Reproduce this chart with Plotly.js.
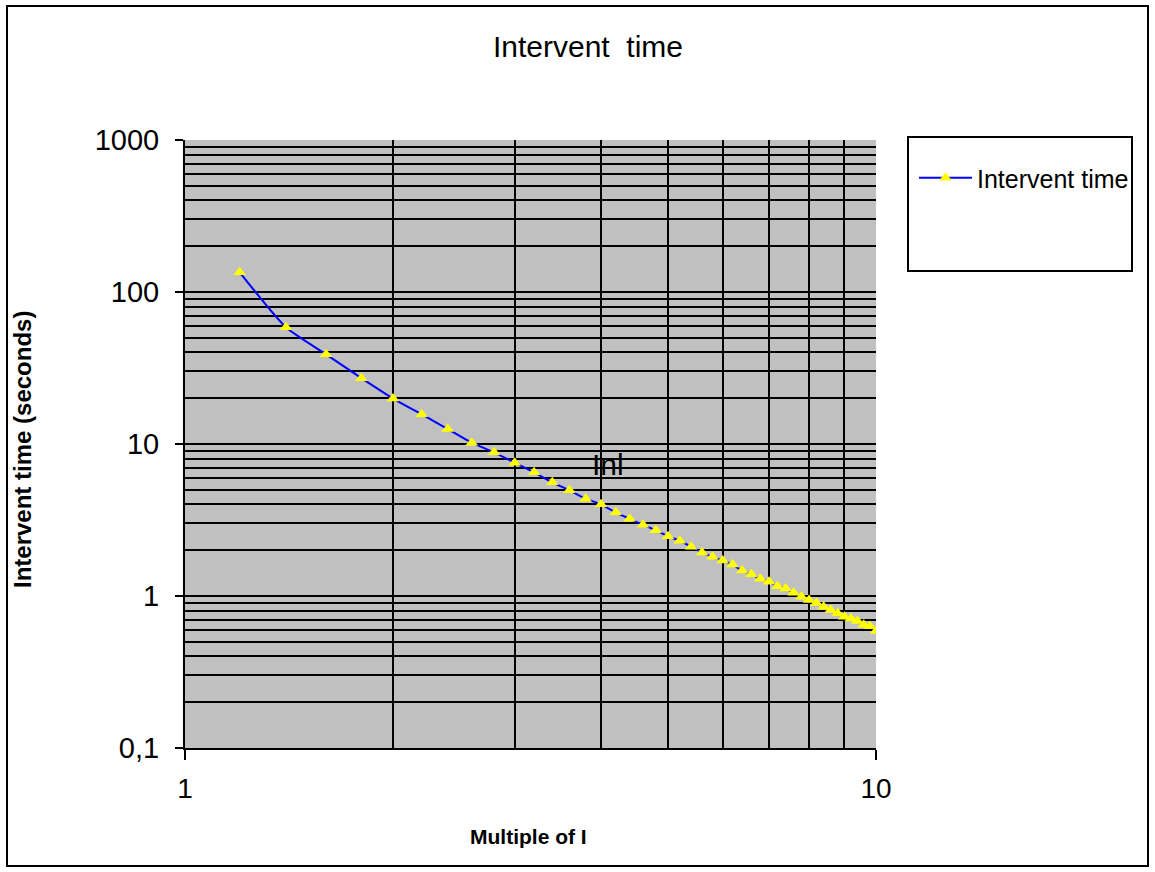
<!DOCTYPE html>
<html>
<head>
<meta charset="utf-8">
<script src="https://cdn.plot.ly/plotly-3.0.1.min.js"></script>
<style>html,body{margin:0;padding:0;background:#fff;}#chart{width:1155px;height:872px;}</style>
</head>
<body>
<div id="chart"></div>
<script>
const seriesName = "Intervent time";
const multipleOfI = [1.2,1.4,1.6,1.8,2.0,2.2,2.4,2.6,2.8,3.0,3.2,3.4,3.6,3.8,4.0,4.2,4.4,4.6,4.8,5.0,
  5.2,5.4,5.6,5.8,6.0,6.2,6.4,6.6,6.8,7.0,7.2,7.4,7.6,7.8,8.0,8.2,8.4,8.6,8.8,9.0,9.2,9.4,9.6,9.8,10.0];
const interventTime = [134.8,58.6,38.9,27.1,19.9,15.7,12.55,10.2,8.82,7.54,6.51,5.60,4.96,4.37,4.01,3.55,3.22,2.94,2.71,2.47,
  2.31,2.11,1.93,1.81,1.71,1.61,1.47,1.39,1.30,1.24,1.16,1.12,1.05,0.99,0.94,0.90,0.85,0.81,0.77,0.73,0.71,0.685,0.647,0.632,0.589];
const yTickVals = [0.1,1,10,100,1000];
const yTickText = ["0,1","1","10","100","1000"];
const xTickVals = [1,10];
const xTickText = ["1","10"];
const annotationText = "Inl";
const annotationPos = [4.1, 7.3];

const FONT = "Liberation Sans, Arial, sans-serif";

const trace = {
  x: multipleOfI, y: interventTime, name: seriesName,
  type: 'scatter', mode: 'lines+markers',
  line: {color: '#0000FF', width: 2, shape: 'spline', smoothing: 0.6},
  marker: {symbol: 'triangle-up', size: 11, color: '#FFFF00', line: {width: 0}}
};

const L = 185, R = 876, T = 140, B = 748, W = 1155, H = 872;
const pw = R - L, ph = B - T;
const px = v => (v - L) / pw;
const py = v => (B - v) / ph;

const layout = {
  width: W, height: H,
  margin: {l: L, r: W - R, t: T, b: H - B, pad: 0},
  paper_bgcolor: '#FFFFFF', plot_bgcolor: '#C0C0C0',
  font: {family: FONT, color: '#000'},
  title: {text: "Intervent\u00a0 time", font: {family: FONT, size: 30, color: '#000'},
          xref: 'container', x: 588 / W, xanchor: 'center', yref: 'container', y: 1 - 46 / H, yanchor: 'middle'},
  showlegend: true,
  legend: {x: px(914), xanchor: 'left', y: py(155), yanchor: 'top', bgcolor: 'rgba(0,0,0,0)',
           borderwidth: 0, font: {family: FONT, size: 25, color: '#000'}, itemwidth: 53},
  xaxis: {type: 'log', range: [0, 1], tickmode: 'array', tickvals: xTickVals, ticktext: xTickText,
          showgrid: true, gridcolor: '#000', gridwidth: 2,
          minor: {dtick: 'D1', showgrid: true, gridcolor: '#000', gridwidth: 2, ticks: ''},
          showline: true, linecolor: '#000', linewidth: 2, mirror: false,
          ticks: 'outside', ticklen: 10, tickwidth: 2, tickcolor: '#000', ticklabelstandoff: 4,
          tickfont: {family: FONT, size: 28, color: '#000'}, zeroline: false, fixedrange: true},
  yaxis: {type: 'log', range: [-1, 3], tickmode: 'array', tickvals: yTickVals, ticktext: yTickText,
          showgrid: true, gridcolor: '#000', gridwidth: 2,
          minor: {dtick: 'D1', showgrid: true, gridcolor: '#000', gridwidth: 2, ticks: ''},
          showline: true, linecolor: '#000', linewidth: 2, mirror: false,
          ticks: 'outside', ticklen: 8, tickwidth: 2, tickcolor: '#000', ticklabelstandoff: 10,
          tickfont: {family: FONT, size: 29, color: '#000'}, zeroline: false, fixedrange: true},
  annotations: [
    {text: "<b>Multiple of I</b>", xref: 'paper', yref: 'paper', x: px(528), y: py(836),
     showarrow: false, font: {family: FONT, size: 21, color: '#000'}, xanchor: 'center', yanchor: 'middle'},
    {text: "<b>Intervent time (seconds)</b>", xref: 'paper', yref: 'paper', x: px(22), y: py(450),
     showarrow: false, textangle: -90, font: {family: FONT, size: 24, color: '#000'}, xanchor: 'center', yanchor: 'middle'},
    {text: annotationText, xref: 'x', yref: 'y', x: Math.log10(annotationPos[0]), y: Math.log10(annotationPos[1]),
     showarrow: false, font: {family: FONT, size: 30, color: '#000'}, xanchor: 'center', yanchor: 'middle'}
  ],
  shapes: [
    {type: 'rect', xref: 'paper', yref: 'paper', x0: px(7), x1: px(1148), y0: py(866), y1: py(6),
     line: {color: '#000', width: 2}, fillcolor: 'rgba(0,0,0,0)', layer: 'below'},
    {type: 'rect', xref: 'paper', yref: 'paper', x0: px(908), x1: px(1132), y0: py(271), y1: py(137),
     line: {color: '#000', width: 2}, fillcolor: 'rgba(0,0,0,0)', layer: 'above'}
  ]
};

Plotly.newPlot('chart', [trace], layout, {displayModeBar: false, staticPlot: true});
</script>
</body>
</html>
